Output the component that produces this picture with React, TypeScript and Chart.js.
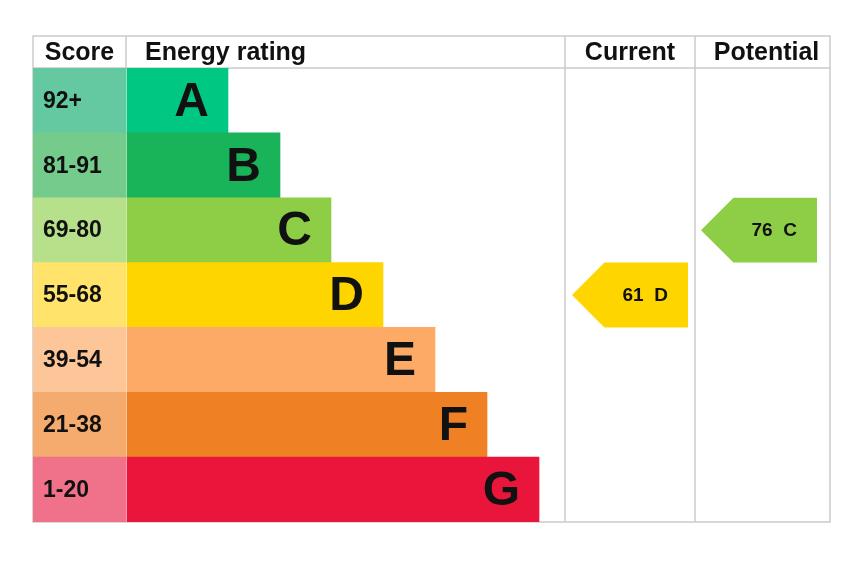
import { useEffect, useRef } from 'react';
import Chart from 'chart.js/auto';

// bands, top (best) to bottom
const bands = ['A', 'B', 'C', 'D', 'E', 'F', 'G'];
const scoreRanges = ['92+', '81-91', '69-80', '55-68', '39-54', '21-38', '1-20'];
// right end of each band bar, in x-scale units
const bandEnds = [195, 247, 298, 350, 402, 454, 506];
const barColors = ['#00c781', '#19b459', '#8dce46', '#ffd500', '#fcaa65', '#ef8023', '#e9153b'];
const scoreColors = ['#64c8a0', '#74cb8c', '#b6e08a', '#ffe36b', '#fdc699', '#f4ab6d', '#f0728a'];
const headers = ['Score', 'Energy rating', 'Current', 'Potential'];

const currentScore = 61;
const currentBand = 'D';
const potentialScore = 76;
const potentialBand = 'C';

// table layout in x-scale units (score | rating | current | potential)
const COLS = [0, 93, 532, 662, 797];
const FONT = '"Liberation Sans", Arial, Helvetica, sans-serif';
const GRID = '#cbcbcb';
const HEADER_H = 32;

const epcPlugin = {
    id: 'epc',
    beforeDatasetsDraw(chart: any) {
        const { ctx, chartArea: a, scales: { x } } = chart;
        const top = a.top - HEADER_H;
        ctx.save();
        ctx.strokeStyle = GRID;
        ctx.lineWidth = 1.5;
        ctx.beginPath();
        ctx.strokeRect(a.left, top, a.right - a.left, a.bottom - top);
        ctx.moveTo(a.left, a.top);
        ctx.lineTo(a.right, a.top);
        ctx.moveTo(x.getPixelForValue(COLS[1]), top);
        ctx.lineTo(x.getPixelForValue(COLS[1]), a.top);
        for (const c of [COLS[2], COLS[3]]) {
            ctx.moveTo(x.getPixelForValue(c), top);
            ctx.lineTo(x.getPixelForValue(c), a.bottom);
        }
        ctx.stroke();
        ctx.restore();
    },
    afterDatasetsDraw(chart: any) {
        const { ctx, chartArea: a, scales: { x, y } } = chart;
        const rowH = (a.bottom - a.top) / bands.length;
        const headY = a.top - HEADER_H / 2;
        ctx.save();
        ctx.fillStyle = '#111';
        ctx.textBaseline = 'middle';

        // header
        ctx.font = `bold 25px ${FONT}`;
        ctx.textAlign = 'center';
        ctx.fillText(headers[0], (x.getPixelForValue(COLS[0]) + x.getPixelForValue(COLS[1])) / 2, headY + 1);
        ctx.textAlign = 'left';
        ctx.fillText(headers[1], x.getPixelForValue(COLS[1]) + 19, headY + 1);
        ctx.textAlign = 'center';
        ctx.fillText(headers[2], (x.getPixelForValue(COLS[2]) + x.getPixelForValue(COLS[3])) / 2, headY + 1);
        ctx.fillText(headers[3], (x.getPixelForValue(COLS[3]) + x.getPixelForValue(COLS[4])) / 2 + 4, headY + 1);

        // score ranges and band letters
        bands.forEach((b, i) => {
            const cy = y.getPixelForValue(i);
            ctx.textAlign = 'left';
            ctx.font = `bold 23px ${FONT}`;
            ctx.fillText(scoreRanges[i], x.getPixelForValue(COLS[0]) + 10, cy + 1);
            ctx.textAlign = 'right';
            ctx.font = `bold 48px ${FONT}`;
            ctx.fillText(b, x.getPixelForValue(bandEnds[i]) - 19, cy + 2);
        });

        // arrows
        const arrow = (score: number, band: string, col: number, tipPad: number, endPad: number) => {
            const i = bands.indexOf(band);
            const cy = y.getPixelForValue(i);
            const y0 = cy - rowH / 2;
            const y1 = cy + rowH / 2;
            const tip = x.getPixelForValue(COLS[col] + tipPad);
            const right = x.getPixelForValue(COLS[col + 1] - endPad);
            const shoulder = tip + rowH / 2;
            ctx.fillStyle = barColors[i];
            ctx.beginPath();
            ctx.moveTo(tip, cy);
            ctx.lineTo(shoulder, y0);
            ctx.lineTo(right, y0);
            ctx.lineTo(right, y1);
            ctx.lineTo(shoulder, y1);
            ctx.closePath();
            ctx.fill();
            ctx.fillStyle = '#111';
            ctx.font = `bold 19px ${FONT}`;
            ctx.textAlign = 'center';
            ctx.fillText(`${score}  ${band}`, (shoulder + right) / 2 - 1, cy + 1);
        };
        arrow(currentScore, currentBand, 2, 7, 7);
        arrow(potentialScore, potentialBand, 3, 6, 13);
        ctx.restore();
    },
};

const App = () => {
    const canvas = useRef<HTMLCanvasElement>(null);

    useEffect(() => {
        const chart = new Chart(canvas.current as HTMLCanvasElement, {
            type: 'bar',
            data: {
                labels: bands,
                datasets: [
                    {
                        label: 'Score',
                        data: bands.map(() => [COLS[0], COLS[1]]) as any,
                        backgroundColor: scoreColors,
                        grouped: false,
                        barPercentage: 1,
                        categoryPercentage: 1,
                    },
                    {
                        label: 'Energy rating',
                        data: bandEnds.map(e => [COLS[1] + 1, e]) as any,
                        backgroundColor: barColors,
                        grouped: false,
                        barPercentage: 1,
                        categoryPercentage: 1,
                    },
                ],
            },
            options: {
                indexAxis: 'y',
                animation: false,
                responsive: true,
                maintainAspectRatio: false,
                layout: { padding: { left: 33, right: 34, top: 68, bottom: 54 } },
                plugins: {
                    legend: { display: false },
                    tooltip: { enabled: false },
                },
                scales: {
                    x: { type: 'linear', min: COLS[0], max: COLS[4], display: false },
                    y: { display: false },
                },
            },
            plugins: [epcPlugin],
        });

        return () => {
            chart.destroy();
        };
    }, []);

    return (
        <div style={{ position: 'fixed', left: 0, top: 0, width: 864, height: 576, background: '#fff' }}>
            <canvas ref={canvas} role="img" aria-label="Energy performance rating chart"></canvas>
        </div>
    );
};

export default App;
